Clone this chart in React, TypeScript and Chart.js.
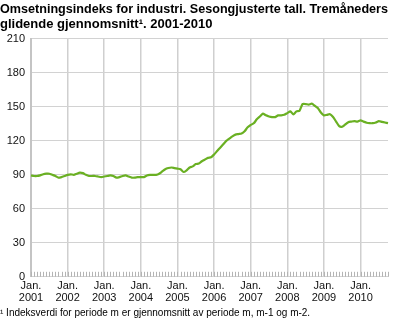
import React, { useEffect, useRef } from "react";
import { Chart, registerables } from "chart.js";

Chart.register(...registerables);

const titleLines = [
  "Omsetningsindeks for industri. Sesongjusterte tall. Tremåneders",
  "glidende gjennomsnitt¹. 2001-2010",
];
const footnote = "¹ Indeksverdi for periode m er gjennomsnitt av periode m, m-1 og m-2.";

const years = ["2001", "2002", "2003", "2004", "2005", "2006", "2007", "2008", "2009", "2010"];
const monthNames = ["Jan.", "Feb.", "Mar.", "Apr.", "Mai", "Jun.", "Jul.", "Aug.", "Sep.", "Okt.", "Nov.", "Des."];

// Monthly index values, Jan 2001 – Oct 2010
const values = [
  89.5, 89, 89, 89.5, 90.5, 91, 91, 90, 89, 87.5, 88, 89,
  90, 90.5, 90, 91, 92, 91.5, 90, 89, 89, 89, 88.5, 88,
  88.5, 89, 89.5, 89, 87.5, 88, 89, 89.5, 88.5, 87.5, 87.5, 88,
  88, 88, 89.5, 90, 90, 90, 91, 93, 95, 96, 96.5, 96,
  95.5, 95, 92.5, 94, 96.5, 97.5, 99.5, 100, 102, 103.5, 105, 105.5,
  108, 111, 114, 117, 120, 122, 124, 125.5, 126, 126.5, 128.5, 132,
  134, 135.5, 139, 141.5, 144, 142.5, 141.5, 141, 141, 142.5, 142.5, 143,
  144.5, 146, 143.3, 146, 146.5, 152.5, 152.5, 152, 152.8, 151, 149, 145,
  142.5, 143, 143.5, 141, 137, 133, 132.5, 134.5, 136.5, 137, 137.4, 137,
  138, 137, 136, 135.6, 135.6, 136.2, 137.4, 136.8, 136.2, 135.6,
];

const yTicks = { min: 0, max: 210, step: 30 };

const labels = values.map((_, i) => `${monthNames[i % 12]} ${years[Math.floor(i / 12)]}`);

const monthTicks = {
  id: "monthTicks",
  beforeDatasetsDraw(chart: any) {
    const { ctx, chartArea, scales } = chart;
    const x = scales.x;
    ctx.save();
    ctx.strokeStyle = "#b4b4b4";
    ctx.lineWidth = 1;
    for (let i = 0; i < labels.length; i++) {
      const px = Math.round(x.getPixelForValue(i)) + 0.5;
      ctx.beginPath();
      ctx.moveTo(px, chartArea.bottom);
      ctx.lineTo(px, chartArea.bottom - 5);
      ctx.stroke();
    }
    ctx.restore();
  },
};

export default function App() {
  const ref = useRef<HTMLCanvasElement>(null);
  useEffect(() => {
    if (!ref.current) return;
    const chart = new Chart(ref.current, {
      type: "line",
      data: {
        labels,
        datasets: [
          {
            data: values,
            borderColor: "#6ab023",
            borderWidth: 2.2,
            pointRadius: 0,
            tension: 0.2,
            fill: false,
          },
        ],
      },
      options: {
        animation: false,
        responsive: false,
        layout: { padding: { left: 0, right: 12, top: 0, bottom: 0 } },
        plugins: {
          legend: { display: false },
          tooltip: { enabled: false },
          title: {
            display: true,
            text: titleLines,
            align: "start",
            color: "#000",
            font: { family: "'Liberation Sans', Arial, sans-serif", size: 13, weight: "bold", lineHeight: 1.15 },
            padding: { top: 2, bottom: 7 },
          },
          subtitle: {
            display: true,
            text: footnote,
            position: "bottom",
            align: "start",
            color: "#000",
            font: { family: "'Liberation Sans', Arial, sans-serif", size: 10, lineHeight: 1.2 },
            padding: { top: 0, bottom: 1 },
          },
        },
        scales: {
          x: {
            type: "category",
            offset: false,
            grid: {
              color: (c: any) => (c.index % 12 === 0 ? "#cfcfcf" : "rgba(0,0,0,0)"),
              lineWidth: 1.5,
              drawTicks: false,
            },
            border: { display: false },
            ticks: {
              autoSkip: false,
              maxRotation: 0,
              padding: 3,
              color: "#111",
              font: { family: "'Liberation Sans', Arial, sans-serif", size: 11, lineHeight: 1.1 },
              callback: (_v: any, i: number) => (i % 12 === 0 ? ["Jan.", years[i / 12]] : ""),
            },
          },
          y: {
            min: yTicks.min,
            max: yTicks.max,
            afterFit: (s: any) => {
              s.width = 31;
            },
            grid: { color: "#d2d2d2", lineWidth: 1, drawTicks: false },
            border: { display: true, color: "#c4c4c4", width: 2 },
            ticks: {
              stepSize: yTicks.step,
              padding: 6,
              color: "#111",
              font: { family: "'Liberation Sans', Arial, sans-serif", size: 11 },
            },
          },
        },
      },
      plugins: [monthTicks],
    });
    return () => chart.destroy();
  }, []);
  return (
    <div style={{ position: "absolute", left: 0, top: 0, width: 400, height: 320, background: "#fff" }}>
      <canvas ref={ref} width={400} height={320} style={{ display: "block" }} />
    </div>
  );
}
